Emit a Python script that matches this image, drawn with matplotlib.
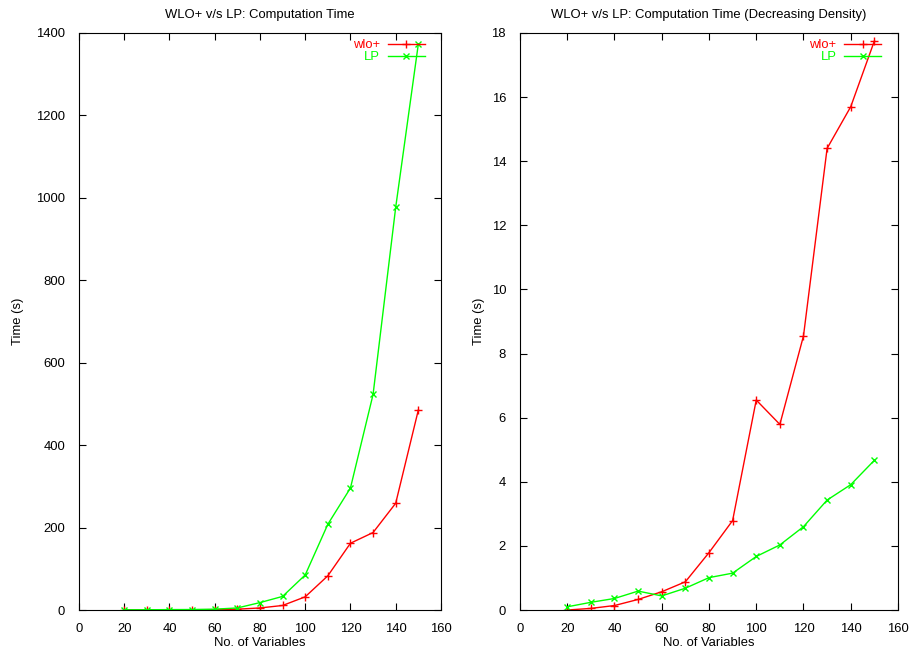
import matplotlib.pyplot as plt

plt.rcParams['font.family'] = ['Liberation Sans', 'DejaVu Sans']
plt.rcParams['font.size'] = 9.35

# number of variables
n_vars = [20, 30, 40, 50, 60, 70, 80, 90, 100, 110, 120, 130, 140, 150]

# computation time (s)
wlo_time = [0.2, 0.3, 0.5, 0.7, 1, 2, 5, 11, 32, 83, 162, 188, 259, 485]
lp_time = [0.5, 0.6, 1, 1.2, 2, 5, 18, 33, 85, 208, 296, 523, 977, 1373]

# decreasing density
wlo_dd = [0.0, 0.05, 0.14, 0.33, 0.57, 0.88, 1.79, 2.79, 6.55, 5.79, 8.55, 14.4, 15.7, 17.75]
lp_dd = [0.1, 0.24, 0.36, 0.59, 0.44, 0.68, 1.01, 1.15, 1.67, 2.03, 2.6, 3.43, 3.91, 4.67]


def draw(ax, wlo, lp, title, ymax, ystep, ylabpad):
    ax.plot(n_vars, wlo, color='#ff0000', marker='+', markersize=6, lw=1, mew=1, label='wlo+')
    ax.plot(n_vars, lp, color='#00ff00', marker='x', markersize=5, lw=1, mew=1, label='LP')
    ax.set_xlim(0, 160)
    ax.set_ylim(0, ymax)
    ax.set_xticks(range(0, 161, 20))
    ax.set_yticks([i * ystep for i in range(int(ymax / ystep) + 1)])
    ax.tick_params(direction='in', top=True, right=True, length=5)
    ax.tick_params(axis='y', pad=10)
    ax.tick_params(axis='x', pad=9)
    ax.set_xlabel('No. of Variables', labelpad=1.5)
    ax.set_ylabel('Time (s)', labelpad=ylabpad)
    ax.set_title(title, fontsize=9.35, pad=11)
    ax.legend(loc='upper right', bbox_to_anchor=(0.98, 1.005), frameon=False,
              markerfirst=False, numpoints=1, handlelength=2.85, handletextpad=0.6,
              labelspacing=0.0, borderaxespad=0.3, labelcolor='linecolor')
    for sp in ax.spines.values():
        sp.set_linewidth(0.8)


fig = plt.figure(figsize=(9.15, 6.56), dpi=100)
ax1 = fig.add_axes([0.0863, 0.0701, 0.3956, 0.8796])
ax2 = fig.add_axes([0.5683, 0.0701, 0.4131, 0.8796])

draw(ax1, wlo_time, lp_time, 'WLO+ v/s LP: Computation Time', 1400, 200, 9)
draw(ax2, wlo_dd, lp_dd, 'WLO+ v/s LP: Computation Time (Decreasing Density)', 18, 2, 4.5)

fig.savefig('out.png', dpi=100)
